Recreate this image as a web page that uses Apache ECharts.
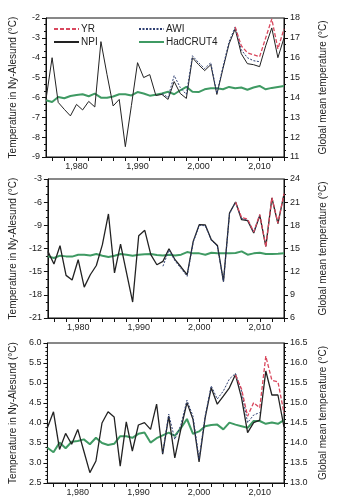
<!DOCTYPE html>
<html><head><meta charset="utf-8">
<script src="https://cdn.jsdelivr.net/npm/echarts@6/dist/echarts.min.js"></script>
<style>html,body{margin:0;padding:0;background:#fff}#c{width:338px;height:504px}</style>
</head><body><div id="c"></div>
<script>
const years = [1975,1976,1977,1978,1979,1980,1981,1982,1983,1984,1985,1986,1987,1988,1989,1990,1991,1992,1993,1994,1995,1996,1997,1998,1999,2000,2001,2002,2003,2004,2005,2006,2007,2008,2009,2010,2011,2012,2013,2014];
const xLabelYears = [1980,1990,2000,2010];
const xTickYears = [1976,1978,1980,1982,1984,1986,1988,1990,1992,1994,1996,1998,2000,2002,2004,2006,2008,2010,2012,2014];

// Panel 1 (annual)
const npi1 = [-6.1,-4.0,-6.25,-6.6,-6.93,-6.35,-6.63,-6.2,-6.48,-3.19,-4.85,-6.43,-6.1,-8.48,-6.4,-4.25,-5.0,-4.85,-5.9,-5.85,-6.1,-5.2,-5.8,-6.05,-4.0,-4.35,-4.65,-4.35,-5.85,-4.55,-3.3,-2.55,-3.8,-4.3,-4.35,-4.45,-3.4,-2.5,-4.0,-3.0];
const awi1 = [null,null,null,null,null,null,null,null,null,null,null,null,null,null,null,null,null,null,null,-5.8,-6.0,-4.9,-5.5,-5.85,-3.9,-4.25,-4.55,-4.25,-5.8,-4.45,-3.2,-2.45,-3.6,-4.0,-4.15,-4.2,null,null,null,null];
const yr1 = [null,null,null,null,null,null,null,null,null,null,null,null,null,null,null,null,null,null,null,null,null,null,null,null,null,null,null,null,null,null,null,-2.45,-3.4,-3.75,-3.85,-3.95,-3.0,-2.05,-3.55,-2.55];
const had1 = [13.86,13.77,14.02,13.96,14.07,14.12,14.16,14.06,14.19,13.99,13.98,14.05,14.16,14.16,14.1,14.27,14.2,14.09,14.14,14.2,14.29,14.16,14.36,14.53,14.29,14.27,14.41,14.46,14.46,14.41,14.53,14.46,14.5,14.39,14.5,14.58,14.41,14.48,14.53,14.58];

// Panel 2 (winter)
const npi2 = [-12.37,-14.0,-11.64,-15.48,-16.08,-13.45,-17.0,-15.4,-14.2,-11.5,-7.53,-15.17,-11.42,-15.2,-18.93,-10.35,-9.65,-12.8,-14.1,-13.67,-12.03,-13.45,-14.4,-15.4,-11.08,-8.92,-8.95,-10.86,-11.6,-16.26,-7.4,-5.98,-8.27,-8.4,-10.0,-7.71,-11.73,-5.46,-8.79,-4.95];
const awi2 = [null,null,null,null,null,null,null,null,null,null,null,null,null,null,null,null,null,null,null,-14.3,-12.2,-13.6,-14.6,-15.6,-11.2,-9.0,-9.05,-10.95,-11.7,-16.3,-7.5,-6.0,-8.1,-8.3,-9.9,-7.6,null,null,null,null];
const yr2 = [null,null,null,null,null,null,null,null,null,null,null,null,null,null,null,null,null,null,null,null,null,null,null,null,null,null,null,null,null,null,null,-6.0,-8.0,-8.2,-9.85,-7.6,-11.8,-5.4,-8.7,-4.9];
const had2 = [13.98,13.77,14.07,13.98,13.95,14.2,14.2,14.1,14.28,14.07,13.9,14.07,14.28,14.2,14.07,14.2,14.25,14.28,14.15,14.1,14.2,14.1,14.2,14.54,14.37,14.37,14.2,14.45,14.37,14.37,14.37,14.41,14.63,14.2,14.37,14.45,14.28,14.28,14.32,14.37];

// Panel 3 (summer)
const npi3 = [3.88,4.28,3.34,3.74,3.47,3.84,3.3,2.76,3.05,4.0,4.28,4.15,2.92,4.03,3.3,3.95,4.01,3.84,4.47,3.22,4.17,3.13,3.85,4.51,4.09,3.03,4.13,4.88,4.47,4.67,4.88,5.21,4.63,3.76,4.01,4.07,5.3,4.7,4.7,3.9];
const awi3 = [null,null,null,null,null,null,null,null,null,null,null,null,null,null,null,null,null,null,null,3.25,4.22,3.59,3.95,4.57,4.17,3.1,4.17,4.93,4.6,4.8,5.1,5.24,4.8,4.01,4.2,4.26,null,null,null,null];
const yr3 = [null,null,null,null,null,null,null,null,null,null,null,null,null,null,null,null,null,null,null,null,null,null,null,null,null,null,null,null,null,null,null,5.2,4.85,4.17,4.51,4.38,5.67,5.07,5.03,4.25];
const had3 = [13.88,13.77,14.01,13.87,14.03,14.05,14.09,13.97,14.13,14.0,13.95,13.98,14.17,14.17,14.13,14.23,14.26,14.01,14.12,14.19,14.26,14.18,14.37,14.6,14.23,14.29,14.42,14.45,14.46,14.34,14.51,14.46,14.42,14.38,14.55,14.55,14.48,14.51,14.48,14.57];

const leftRanges = [[-9,-2,1,3],[-21,-3,3,3],[2.5,6.0,0.5,5]];
const rightRanges = [[11,18,1,3],[6,24,3,3],[13.0,16.5,0.5,5]];
const leftName = 'Temperature in Ny-Alesund (°C)';
const rightName = 'Global mean temperature (°C)';

const pairs = arr => years.map((y,i)=>[y, arr[i]]);
const font = 'Liberation Sans, Arial, sans-serif';
const txt = '#222';
const grids = [
  {left:41, right:54, top:18, height:139},
  {left:41, right:54, top:179, height:139},
  {left:41, right:54, top:343, height:140}
];
const xAxes = [], yAxes = [], series = [];
const panels = [[npi1,awi1,yr1,had1],[npi2,awi2,yr2,had2],[npi3,awi3,yr3,had3]];
const decimals = [0,0,1];
panels.forEach((p,gi)=>{
  xAxes.push({gridIndex:gi, type:'value', min:1975, max:2014,
    axisLine:{show:true,lineStyle:{color:'#111'}},
    axisTick:{show:true, customValues:xTickYears, length:4, lineStyle:{color:'#111'}},
    axisLabel:{customValues:xLabelYears, color:txt, fontSize:9, fontFamily:font, margin:5},
    splitLine:{show:false}});
  const L = leftRanges[gi], R = rightRanges[gi];
  const fmt = v => Number(v).toFixed(decimals[gi]);
  yAxes.push({gridIndex:gi, type:'value', position:'left', min:L[0], max:L[1], interval:L[2],
    name:leftName, nameLocation:'middle', nameGap:28, nameRotate:90,
    nameTextStyle:{color:txt, fontSize:10, fontFamily:font},
    axisLine:{show:true,lineStyle:{color:'#111'}},
    axisTick:{show:true,length:4,lineStyle:{color:'#111'}},
    minorTick:{show:true,splitNumber:L[3],length:2,lineStyle:{color:'#111'}},
    axisLabel:{color:txt,fontSize:9,fontFamily:font,margin:6,formatter:fmt},
    splitLine:{show:false}});
  yAxes.push({gridIndex:gi, type:'value', position:'right', min:R[0], max:R[1], interval:R[2],
    name:rightName, nameLocation:'middle', nameGap:34, nameRotate:90,
    nameTextStyle:{color:txt, fontSize:10, fontFamily:font},
    axisLine:{show:true,lineStyle:{color:'#111'}},
    axisTick:{show:true,length:4,lineStyle:{color:'#111'}},
    minorTick:{show:true,splitNumber:R[3],length:2,lineStyle:{color:'#111'}},
    axisLabel:{color:txt,fontSize:9,fontFamily:font,margin:6,formatter:fmt},
    splitLine:{show:false}});
  const lw = gi===0 ? 1 : 1.3;
  series.push({name:'HadCRUT4', type:'line', xAxisIndex:gi, yAxisIndex:gi*2+1, data:pairs(p[3]),
    symbol:'none', lineStyle:{color:'#3f9a63', width:2}, itemStyle:{color:'#3f9a63'}, z:2});
  series.push({name:'NPI', type:'line', xAxisIndex:gi, yAxisIndex:gi*2, data:pairs(p[0]),
    symbol:'none', lineStyle:{color:'#222', width:lw}, itemStyle:{color:'#222'}, z:3});
  series.push({name:'AWI', type:'line', xAxisIndex:gi, yAxisIndex:gi*2, data:pairs(p[1]),
    symbol:'none', lineStyle:{color:'#2e3f72', width:1, type:[2,1.5]}, itemStyle:{color:'#2e3f72'}, z:4});
  series.push({name:'YR', type:'line', xAxisIndex:gi, yAxisIndex:gi*2, data:pairs(p[2]),
    symbol:'none', lineStyle:{color:'#d9485e', width:1.3, type:[4,2]}, itemStyle:{color:'#d9485e'}, z:5});
});

const legendCommon = {orient:'vertical', top:19, itemWidth:25, itemHeight:10, itemGap:3,
  itemStyle:{opacity:0}, textStyle:{color:txt,fontSize:10,fontFamily:font, padding:[0,0,0,-3]}};
const chart = echarts.init(document.getElementById('c'), null, {renderer:'canvas'});
chart.setOption({
  backgroundColor:'#fff',
  animation:false,
  grid: grids.map(g=>Object.assign({show:true, borderColor:'#111', borderWidth:1, backgroundColor:'transparent'}, g)),
  legend:[
    Object.assign({data:['YR','NPI'], left:48}, legendCommon),
    Object.assign({data:['AWI','HadCRUT4'], left:133}, legendCommon)
  ],
  xAxis:xAxes, yAxis:yAxes, series:series
});
</script></body></html>
